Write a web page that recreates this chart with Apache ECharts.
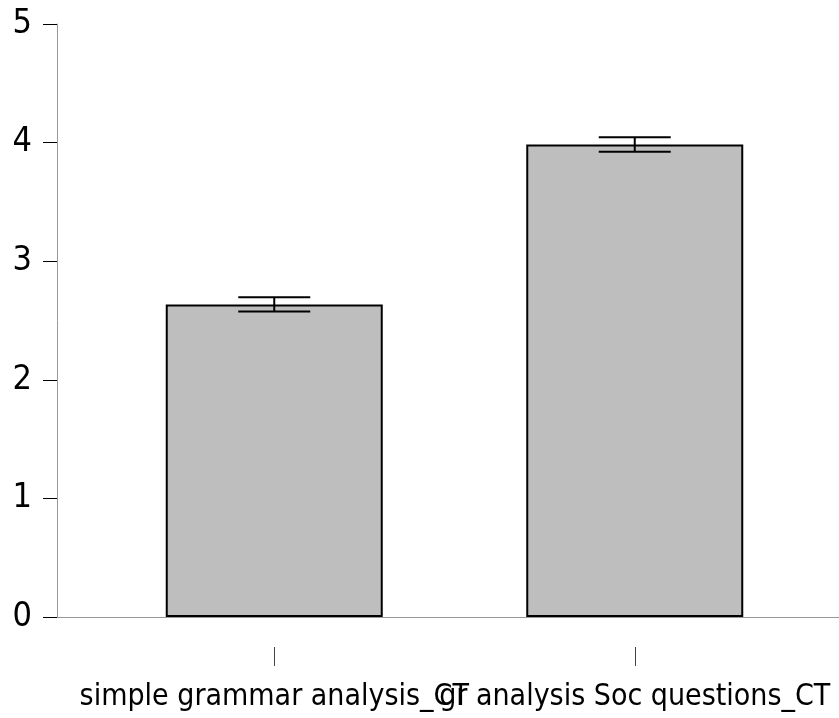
<!DOCTYPE html>
<html><head><meta charset="utf-8">
<script src="https://cdn.jsdelivr.net/npm/echarts@6/dist/echarts.min.js"></script>
<style>html,body{margin:0;padding:0;background:#fff}#c{width:839px;height:718px}</style>
</head><body><div id="c"></div>
<script>
var categories = ["simple grammar analysis_CT", "gr analysis Soc questions_CT"];
var means = [2.635, 3.985];
var errLow = [2.575, 3.923];
var errHigh = [2.695, 4.045];
var yTicks = [0, 1, 2, 3, 4, 5];

var FONT = "'DejaVu Sans Condensed', sans-serif";
var chart = echarts.init(document.getElementById('c'), null, {renderer: 'canvas'});
var errData = categories.map(function (c, i) { return [i, errLow[i], errHigh[i]]; });
chart.setOption({
  animation: false,
  backgroundColor: '#ffffff',
  grid: [
    {left: 94, right: 24, top: 24, bottom: 101},
    {left: 57, right: 0, top: 24, bottom: 101},
    {left: 94, right: 24, top: 24, bottom: 71}
  ],
  xAxis: [
    {type: 'category', gridIndex: 0, data: categories,
     axisLine: {show: false}, axisTick: {show: false}, axisLabel: {show: false},
     splitLine: {show: false}},
    {type: 'value', gridIndex: 1, min: 0, max: 1,
     axisLine: {show: true, lineStyle: {color: '#999', width: 1}},
     axisTick: {show: false}, axisLabel: {show: false}, splitLine: {show: false}},
    {type: 'category', gridIndex: 2, data: categories,
     axisLine: {show: false},
     axisTick: {show: true, alignWithLabel: true, length: 19, lineStyle: {color: '#444', width: 1}},
     axisLabel: {interval: 0, hideOverlap: false, margin: 35, color: '#000', fontSize: 30, fontFamily: FONT},
     splitLine: {show: false}}
  ],
  yAxis: [
    {type: 'value', gridIndex: 0, min: yTicks[0], max: yTicks[yTicks.length - 1], interval: 1, offset: 37,
     axisLine: {show: true, lineStyle: {color: '#999', width: 1}},
     axisTick: {show: true, length: 14, lineStyle: {color: '#000', width: 1}},
     axisLabel: {margin: 25, color: '#000', fontSize: 34, fontFamily: FONT},
     splitLine: {show: false}},
    {type: 'value', gridIndex: 1, min: 0, max: 5, show: false},
    {type: 'value', gridIndex: 2, min: 0, max: 5, show: false}
  ],
  series: [
    {type: 'bar', xAxisIndex: 0, yAxisIndex: 0, data: means, barWidth: 217,
     itemStyle: {color: '#bebebe', borderColor: '#000', borderWidth: 2}},
    {type: 'custom', xAxisIndex: 0, yAxisIndex: 0, data: errData, z: 10,
     renderItem: function (params, api) {
       var x = api.value(0);
       var lo = api.coord([x, api.value(1)]);
       var hi = api.coord([x, api.value(2)]);
       var hw = 36;
       var st = {stroke: '#000', lineWidth: 2};
       return {type: 'group', children: [
         {type: 'line', shape: {x1: lo[0], y1: lo[1], x2: hi[0], y2: hi[1]}, style: st},
         {type: 'line', shape: {x1: lo[0] - hw, y1: lo[1], x2: lo[0] + hw, y2: lo[1]}, style: st},
         {type: 'line', shape: {x1: hi[0] - hw, y1: hi[1], x2: hi[0] + hw, y2: hi[1]}, style: st}
       ]};
     }}
  ]
});
</script></body></html>
